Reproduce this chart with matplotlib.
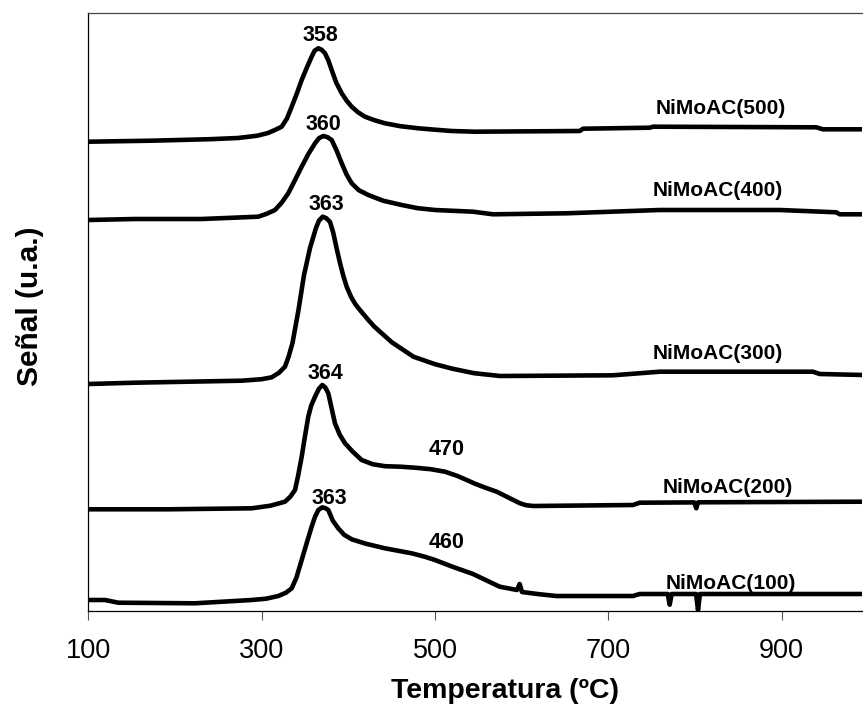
import matplotlib
matplotlib.use("Agg")
import matplotlib.pyplot as plt

# TPR profiles, signal in arbitrary units (curves stacked with an offset)
t_500 = [100, 173, 240, 272.6, 295, 307.2, 316, 323, 329, 334.6, 340, 346.1, 352, 357.6,
         361, 365.3, 369, 373, 377, 380.7, 386, 392.3, 398, 403.8, 411, 419.1, 430, 442.2,
         460, 480.6, 500, 519.2, 546, 667, 670.7, 747.6, 751.4, 939.9, 947.6, 993.8]
s_500 = [469, 470, 471.5, 472.7, 475, 477.7, 481, 484, 492, 504, 516, 530.7, 543, 554,
         560, 562.4, 561, 557.4, 550, 540.7, 528, 517.4, 510, 504, 498.5, 494, 490.5, 487.4,
         484.5, 482.4, 481, 479.7, 479, 479.7, 482, 483, 484, 483.4, 481.4, 481.4]

t_400 = [100, 153.8, 230.7, 296, 306, 315.3, 323, 330.6, 338, 346.1, 354, 361.5, 366, 371,
         376, 380.7, 386, 392.3, 398, 403.8, 412, 423, 440, 461.5, 480, 499.9, 543.8, 566.8,
         651.4, 759.2, 897.6, 962.9, 966.9, 993.8]
s_400 = [390.7, 391.7, 391.7, 394, 397, 400.7, 408, 417.4, 430, 444, 457, 467.4, 472.5, 474.7,
         473.5, 470.7, 461, 447.4, 436, 427.4, 420.5, 415.7, 410, 405.7, 402.5, 400.7, 399, 396.4,
         397.4, 400.7, 400.7, 398.4, 396.4, 396.4]

t_300 = [100, 153.8, 276.9, 300, 311.5, 320, 326.8, 331, 335.5, 342.4, 348.8, 355.7, 362.6,
         366, 370.3, 374.5, 378.8, 382.5, 386.5, 390.5, 394.1, 398, 403, 408, 413.3, 423, 430,
         450, 475, 500, 520, 545, 575, 705.3, 759.2, 936, 943.8, 993.8]
s_300 = [226.7, 228, 230, 231.5, 233.4, 238, 244, 254, 267.7, 300.7, 335.7, 362.7, 382.7,
         390, 394, 392.5, 388.7, 378, 362, 347, 335, 324, 314, 306.5, 300.7, 290.7, 284,
         268.5, 254, 246.5, 242, 237.5, 234.7, 235.4, 239, 239, 236.7, 235.7]

t_200 = [100, 192.2, 288.4, 310, 326.8, 333, 338.4, 342, 346.1, 350, 353.7, 357, 361.5, 366,
         369.9, 373.5, 376.8, 380, 384.5, 390, 396.1, 405, 415.3, 428, 442.2, 460, 476.8, 495,
         511.4, 525, 536.5, 546, 558, 571.1, 585, 598, 605, 613.3, 728.4, 736.1, 799,
         801.4, 803.5, 993.8]
s_200 = [101.4, 101.4, 102.4, 105, 109, 114, 120.7, 135, 154, 175, 194, 205, 214, 222,
         225.7, 223, 217.4, 205, 187.4, 176, 167.4, 159, 150.7, 146.5, 144.5, 144, 143, 141.5,
         139, 135, 130.7, 127, 123, 119, 113, 107.4, 105.5, 104.7, 105.7, 108, 108.3,
         102.4, 108.4, 109]

t_100 = [100, 119.2, 134.5, 223, 288.4, 305, 319.1, 328, 334.6, 340, 346.1, 352, 357.6,
         361.5, 365.3, 369.9, 373.5, 376.8, 382, 388.3, 395, 403.8, 420, 442.2, 460, 473,
         488, 499.9, 520, 543.8, 560, 574.6, 594.5, 597.6, 600.3, 620, 639.9, 728.4,
         736.1, 768.5, 770.7, 773, 801.2, 803.4, 805.6, 993.8]
s_100 = [10.7, 10.7, 8, 7.4, 10.7, 12, 14.7, 18, 22.4, 33, 50.7, 68, 84,
         94, 100.7, 103.4, 102.5, 100.7, 90, 82.4, 76, 71.4, 67, 62.4, 59.5, 57.4,
         54, 50.7, 44, 36.7, 30, 24, 20.7, 26.7, 18.7, 16.5, 14.7, 14.7,
         16.7, 16.7, 6, 16.7, 16.7, 0.5, 16.7, 16.7]

series_names = ["NiMoAC(500)", "NiMoAC(400)", "NiMoAC(300)", "NiMoAC(200)", "NiMoAC(100)"]
peak_labels = ["358", "360", "363", "364", "470", "363", "460"]

FONT = "Liberation Sans"

fig = plt.figure(figsize=(8.63, 7.07), dpi=100)
ax = fig.add_axes([0.10243, 0.13621, 0.8964, 0.84498])

for t, s in [(t_500, s_500), (t_400, s_400), (t_300, s_300), (t_200, s_200), (t_100, s_100)]:
    ax.plot(t, s, color="black", lw=3.3, solid_joinstyle="round", solid_capstyle="round")

# peak temperature labels
peak_pos = [(368.1, 575.2), (371.5, 486.2), (374.1, 406.2), (373.0, 236.9),
            (513.8, 161.2), (377.6, 112.0), (513.8, 68.2)]
for txt, (x, y) in zip(peak_labels, peak_pos):
    ax.text(x, y, txt, ha="center", va="center", fontsize=15.5, fontweight="bold",
            family=FONT)

# sample names
name_pos = [(830.2, 502.4), (825.9, 420.4), (825.9, 256.9), (837.6, 122.7), (841.5, 27.4)]
for txt, (x, y) in zip(series_names, name_pos):
    ax.text(x, y, txt, ha="center", va="center", fontsize=15, fontweight="bold",
            family=FONT)

ax.set_xlim(100, 992.6)
ax.set_ylim(0, 597.4)
ax.set_xticks([100, 300, 500, 700, 900])
ax.set_yticks([])
ax.tick_params(axis="x", direction="out", length=6.5, width=0.8, color="#555555",
               pad=13, labelsize=19.5)
for lab in ax.get_xticklabels():
    lab.set_family(FONT)

for side in ["left", "bottom", "top"]:
    ax.spines[side].set_linewidth(0.9)
ax.spines["top"].set_color("#444444")
ax.spines["right"].set_visible(False)

ax.set_xlabel("Temperatura (ºC)", fontsize=20.5, fontweight="bold", family=FONT)
ax.xaxis.set_label_coords(0.5385, -0.113)
ax.set_ylabel("Señal (u.a.)", fontsize=21.5, fontweight="bold", family=FONT)
ax.yaxis.set_label_coords(-0.0575, 0.51)

fig.savefig("out.png", dpi=100)
